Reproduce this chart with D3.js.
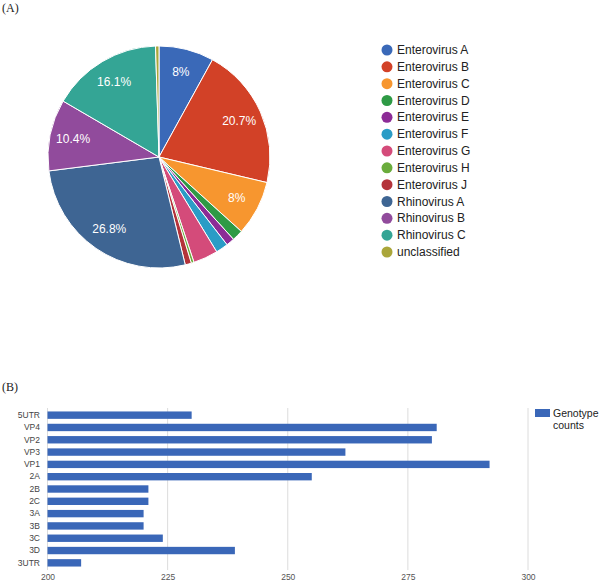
<!DOCTYPE html>
<html>
<head>
<meta charset="utf-8">
<script src="https://cdn.jsdelivr.net/npm/d3@7"></script>
<style>
  html, body { margin: 0; padding: 0; background: #fff; }
  svg { display: block; }
</style>
</head>
<body>
<svg id="chart" width="600" height="583"></svg>
<script>
// ---- Data: panel A (pie) ----
const pieCategories = ["Enterovirus A", "Enterovirus B", "Enterovirus C", "Enterovirus D",
  "Enterovirus E", "Enterovirus F", "Enterovirus G", "Enterovirus H", "Enterovirus J",
  "Rhinovirus A", "Rhinovirus B", "Rhinovirus C", "unclassified"];
const pieValues = [8.0, 20.7, 8.0, 1.6, 1.2, 1.8, 3.6, 0.4, 0.9, 26.8, 10.4, 16.1, 0.5];
const pieColors = ["#3a69b8", "#d24127", "#f7962f", "#2e9a45", "#8c2b96", "#2a9cc6",
  "#d44b7a", "#6aac3c", "#b4333a", "#3e6593", "#914b9c", "#34a595", "#aaa63a"];

// ---- Data: panel B (bars) ----
const barCategories = ["5UTR", "VP4", "VP2", "VP3", "VP1", "2A", "2B", "2C", "3A", "3B", "3C", "3D", "3UTR"];
const barValues = [230, 281, 280, 262, 292, 255, 221, 221, 220, 220, 224, 239, 207];
const barTicks = [200, 225, 250, 275, 300];
const barSeriesName = ["Genotype", "counts"];

const SANS = "'Liberation Sans', Arial, sans-serif";
const SERIF = "'Liberation Serif', 'Times New Roman', serif";
const svg = d3.select("#chart");

// Panel labels
svg.append("text").attr("x", 2).attr("y", 12)
  .attr("font-family", SERIF).attr("font-size", 12)
  .attr("fill", "#222").text("(A)");
svg.append("text").attr("x", 2).attr("y", 391)
  .attr("font-family", SERIF).attr("font-size", 12)
  .attr("fill", "#222").text("(B)");

// ---- Pie ----
const cx = 159, cy = 157, R = 111;
const pie = d3.pie().sort(null).value(d => d)(pieValues);
const arc = d3.arc().innerRadius(0).outerRadius(R);
const labelArc = d3.arc().innerRadius(R * 0.79).outerRadius(R * 0.79);
const gPie = svg.append("g").attr("transform", `translate(${cx},${cy})`);
gPie.selectAll("path").data(pie).join("path")
  .attr("d", arc)
  .attr("fill", (d, i) => pieColors[i])
  .attr("stroke", "#fff").attr("stroke-width", 1);
const fmt = v => {
  const s = (Math.round(v * 10) / 10).toFixed(1);
  return (s.endsWith(".0") ? s.slice(0, -2) : s) + "%";
};
gPie.selectAll("text.lbl").data(pie.filter(d => d.value >= 5)).join("text")
  .attr("class", "lbl")
  .attr("transform", d => `translate(${labelArc.centroid(d)})`)
  .attr("text-anchor", "middle").attr("dominant-baseline", "central")
  .attr("font-family", SANS).attr("font-size", 12)
  .attr("fill", "#fff")
  .text(d => fmt(d.value));

// Pie legend
const legY = d3.scalePoint().domain(pieCategories).range([50, 252]);
const gLeg = svg.append("g");
const legItems = gLeg.selectAll("g").data(pieCategories).join("g")
  .attr("transform", d => `translate(387,${legY(d)})`);
legItems.append("circle").attr("r", 5.5).attr("fill", (d, i) => pieColors[i]);
legItems.append("text").attr("x", 10).attr("dominant-baseline", "central")
  .attr("font-family", SANS).attr("font-size", 12)
  .attr("fill", "#222").text(d => d);

// ---- Bars ----
const x = d3.scaleLinear().domain([200, 300]).range([47.5, 528]);
const y = d3.scaleBand().domain(barCategories).range([409, 569]).paddingInner(0.4).paddingOuter(0.2);
const gBar = svg.append("g");
// gridlines
gBar.selectAll("line.grid").data(barTicks).join("line")
  .attr("class", "grid")
  .attr("x1", d => x(d)).attr("x2", d => x(d))
  .attr("y1", 408).attr("y2", 570)
  .attr("stroke", "#dcdcdc").attr("stroke-width", 1);
gBar.selectAll("rect.bar").data(barValues).join("rect")
  .attr("class", "bar")
  .attr("x", x(200)).attr("y", (d, i) => y(barCategories[i]))
  .attr("width", d => x(d) - x(200)).attr("height", y.bandwidth())
  .attr("fill", "#3a67b8");
// x axis tick labels
const xAxis = d3.axisBottom(x).tickValues(barTicks).tickSize(0).tickPadding(0);
const gx = gBar.append("g").attr("transform", "translate(0,574)").call(xAxis);
gx.select(".domain").remove();
gx.selectAll("text").attr("font-family", SANS)
  .attr("font-size", 8.5).attr("fill", "#555").attr("dy", "0.71em");
// y axis labels
const yAxis = d3.axisLeft(y).tickSize(0).tickPadding(0);
const gy = gBar.append("g").attr("transform", "translate(40,0)").call(yAxis);
gy.select(".domain").remove();
gy.selectAll("text").attr("font-family", SANS)
  .attr("font-size", 8.5).attr("fill", "#444");

// bar legend
svg.append("rect").attr("x", 535).attr("y", 409).attr("width", 15).attr("height", 8).attr("fill", "#3a67b8");
svg.append("text").attr("font-family", SANS).attr("font-size", 10.5)
  .attr("fill", "#222")
  .selectAll("tspan").data(barSeriesName).join("tspan")
  .attr("x", 553).attr("y", (d, i) => 417 + i * 12).text(d => d);
</script>
</body>
</html>
